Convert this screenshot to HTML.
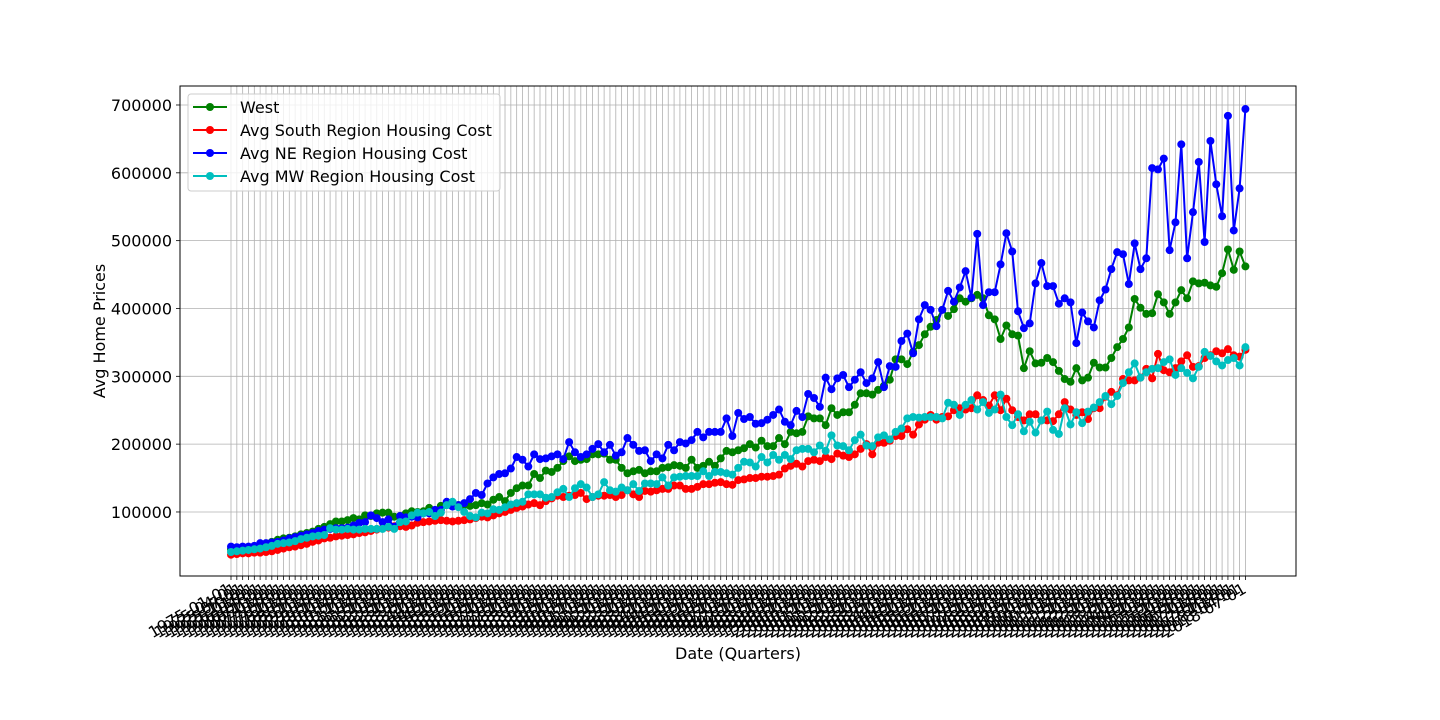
<!DOCTYPE html>
<html><head><meta charset="utf-8"><style>
html,body{margin:0;padding:0;background:#fff;}
svg{display:block;font-family:"DejaVu Sans","Liberation Sans",sans-serif;}
</style></head><body>
<svg id="chart" width="1440" height="720" viewBox="0 0 1440 720">
<g id="grid"></g>
<g id="series"></g>
<rect x="180" y="86" width="1116" height="490" fill="none" stroke="#000" stroke-width="1"/>
<g id="yticks"></g>
<g id="xticks"></g>
<text x="105" y="331" font-size="16" text-anchor="middle" transform="rotate(-90 105 331)">Avg Home Prices</text>
<text x="738" y="659" font-size="16" text-anchor="middle">Date (Quarters)</text>
<g id="legend">
<rect x="188" y="94" width="312" height="97" rx="3" fill="#fff" fill-opacity="0.8" stroke="#ccc"/>
</g>
</svg>
<script>
const categories = [];
for (let y = 1975; y <= 2018; y++) { for (const m of ["01","04","07","10"]) { if (categories.length < 175) categories.push(y + "-" + m + "-01"); } }
const seriesNames = ["West","Avg South Region Housing Cost","Avg NE Region Housing Cost","Avg MW Region Housing Cost"];
const westValues = [45,46,47,48,49,51,53,56,59,61,62,64,67,69,71,75,78,82,86,86,88,91,89,95,94,98,99,99,93,94,98,101,100,101,106,102,109,110,111,110,110,109,110,113,111,118,122,116,128,135,139,139,156,150,161,159,165,175,182,175,177,178,185,185,186,177,177,165,157,160,162,157,160,160,165,166,169,168,165,177,165,168,174,168,179,190,188,191,194,200,195,205,197,197,209,200,218,216,218,241,238,238,228,253,243,247,247,258,275,275,273,280,286,295,325,325,318,336,346,362,373,383,398,389,399,415,410,415,420,415,390,384,355,375,362,360,312,337,319,320,327,321,308,296,292,312,294,298,320,313,313,327,343,355,372,414,401,392,393,421,409,392,409,427,415,440,437,438,434,432,452,487,457,484,462];
const southValues = [37,38,39,39,40,40,41,42,44,46,48,49,51,53,56,58,61,62,64,65,66,67,69,70,72,74,76,77,79,79,78,80,84,85,86,87,88,87,86,87,88,89,91,93,92,95,98,100,103,106,108,111,113,110,116,120,124,122,124,125,128,119,122,124,124,125,122,125,132,126,122,131,130,132,134,134,139,139,134,134,137,141,141,143,144,141,140,147,148,150,150,152,152,153,155,164,168,171,167,175,177,175,181,178,186,183,181,185,193,200,185,202,202,205,212,212,222,214,229,236,243,236,240,241,250,253,251,253,272,265,257,272,250,267,250,240,235,244,244,235,235,234,244,262,251,243,247,237,253,253,270,277,272,296,294,294,298,311,297,333,309,306,312,322,331,314,315,327,331,337,334,340,331,329,339];
const neValues = [49,48,49,49,50,54,54,55,56,58,61,63,65,67,69,72,74,75,76,76,77,80,84,85,95,91,85,89,78,94,92,93,92,98,98,103,103,115,108,110,113,119,128,125,142,151,156,157,164,181,177,167,185,178,179,182,185,178,203,188,181,185,193,200,188,199,183,188,209,199,190,191,175,185,179,199,191,203,201,206,218,210,218,218,218,238,212,246,237,240,230,231,236,243,251,233,228,249,240,274,268,255,298,281,297,302,284,295,306,290,297,321,284,315,314,352,363,334,384,405,398,374,398,426,410,431,455,416,510,405,424,424,465,511,484,396,371,378,437,467,433,433,407,415,409,349,394,381,372,412,428,458,483,480,436,496,458,474,607,605,621,486,527,642,474,542,616,498,647,583,536,684,515,577,694];
const mwValues = [41,42,43,44,45,46,48,50,53,54,55,57,60,62,64,65,66,76,74,74,75,74,74,75,75,75,75,78,75,85,86,95,99,98,100,94,99,110,115,107,100,94,92,99,98,104,103,107,111,113,115,126,126,126,121,122,129,134,122,135,141,136,122,126,144,132,130,136,132,141,131,142,142,141,151,139,151,152,153,153,153,160,153,159,159,157,155,165,174,173,167,181,173,184,177,184,178,191,193,193,188,198,190,213,198,197,191,206,214,198,197,210,213,207,218,223,238,240,239,240,240,240,238,261,258,243,258,265,251,262,246,251,273,240,228,244,219,233,217,235,248,221,215,253,229,247,231,248,254,262,271,259,271,290,306,319,298,306,311,312,321,325,302,312,305,297,314,336,330,322,316,324,327,316,343];
const yTicks = [100000,200000,300000,400000,500000,600000,700000];

const NS = "http://www.w3.org/2000/svg";
function mk(tag, attrs, parent) { const e = document.createElementNS(NS, tag); for (const k in attrs) e.setAttribute(k, attrs[k]); parent.appendChild(e); return e; }
const X0 = 231, DX = 5.83;
function xScale(i) { return X0 + i * DX; }
function yScale(v) { return 579.8 - v * 0.0006783; }

const grid = document.getElementById("grid");
const xt = document.getElementById("xticks");
categories.forEach((c, i) => {
  const x = xScale(i);
  const gl = mk("line", {x1:x, x2:x, y1:86, y2:576, stroke:"#b0b0b0", "stroke-width":0.8}, grid);
  
  
  const tk = mk("line", {x1:x, x2:x, y1:576, y2:580, stroke:"#000", "stroke-width":0.8}, xt);
  
  
  const t = mk("text", {x:x + 2, y:592, "font-size":16, "text-anchor":"end", transform:"rotate(-30 " + (x + 2) + " 592)"}, xt);
  t.textContent = c;
  
  
});
const yt = document.getElementById("yticks");
yTicks.forEach(v => {
  const y = yScale(v);
  const gl = mk("line", {x1:180, x2:1296, y1:y, y2:y, stroke:"#b0b0b0", "stroke-width":0.8}, grid);
  
  
  const tk = mk("line", {x1:176, x2:180, y1:y, y2:y, stroke:"#000", "stroke-width":0.8}, yt);
  
  
  const t = mk("text", {x:172, y:y + 6, "font-size":16, "text-anchor":"end"}, yt);
  t.textContent = String(v);
  
  
});

const colors = ["#008000","#ff0000","#0000ff","#00bfbf"];
const allValues = [westValues, southValues, neValues, mwValues];
const seriesKeys = ["west","south","ne","mw"];
const sg = document.getElementById("series");
allValues.forEach((vals, s) => {
  const g = mk("g", {}, sg);
  
  
  const pts = vals.map((v, i) => xScale(i).toFixed(1) + "," + yScale(v * 1000).toFixed(1)).join(" ");
  const pl = mk("polyline", {points:pts, fill:"none", stroke:colors[s], "stroke-width":2}, g);
  
  
  vals.forEach((v, i) => {
    const c = mk("circle", {cx:xScale(i), cy:yScale(v * 1000), r:4, fill:colors[s]}, g);
    
    
  });
});

const lg = document.getElementById("legend");
seriesNames.forEach((n, s) => {
  const y = 107 + s * 23;
  const l = mk("line", {x1:193, x2:227, y1:y, y2:y, stroke:colors[s], "stroke-width":2}, lg);
  
  
  const c = mk("circle", {cx:210, cy:y, r:4, fill:colors[s]}, lg);
  
  
  const t = mk("text", {x:240, y:y + 6, "font-size":16}, lg);
  t.textContent = n;
  
  
});
</script>
</body></html>
